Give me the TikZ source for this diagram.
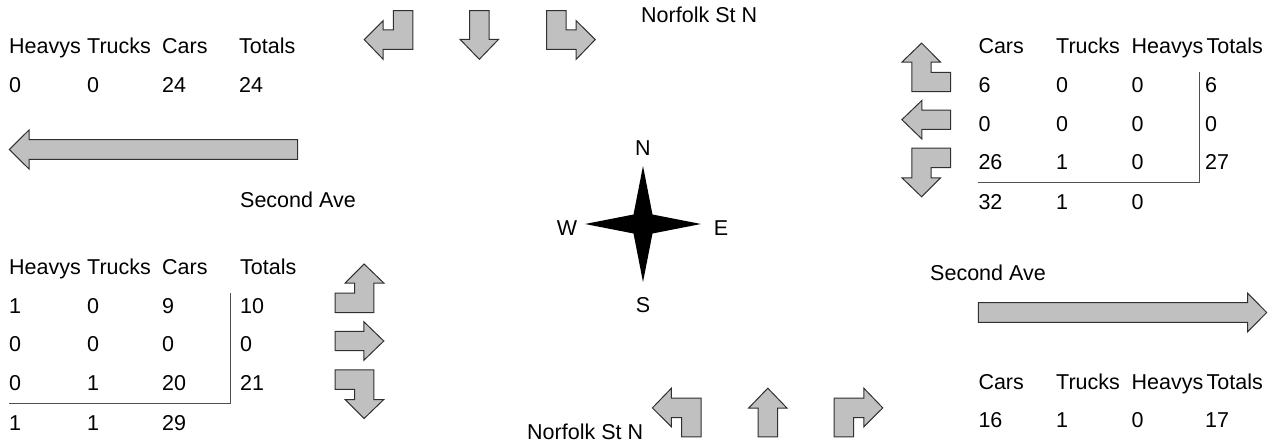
\documentclass[tikz,border=0pt]{standalone}
\usepackage{fontspec}
\setmainfont{Liberation Sans}
\definecolor{arrowgray}{HTML}{C0C0C0}
\definecolor{arrowline}{HTML}{303030}
\definecolor{ruleline}{HTML}{505050}
\begin{document}
\begin{tikzpicture}[x=1pt,y=-1pt,font=\fontsize{21.5}{25}\selectfont]
\tikzset{
  arrowshape/.style={fill=arrowgray,draw=arrowline,line width=1pt,line join=miter},
  cell/.style={anchor=base west,inner sep=0pt},
  lbl/.style={inner sep=0pt},
  rulestyle/.style={draw=ruleline,line width=1pt},
  turnL/.pic={\draw[arrowshape] (4.9,-24.3) -- (24.3,-24.3) -- (24.3,14.3) -- (-5.3,14.3) -- (-5.3,24.3) -- (-24.3,4.6) -- (-5.3,-14.3) -- (-5.3,-5) -- (4.9,-5) -- cycle;},
  turnR/.pic={\draw[arrowshape] (-4.9,-24.3) -- (-24.3,-24.3) -- (-24.3,14.3) -- (5.3,14.3) -- (5.3,24.3) -- (24.3,4.6) -- (5.3,-14.3) -- (5.3,-5) -- (-4.9,-5) -- cycle;},
  straight/.pic={\draw[arrowshape] (-9.7,-24.3) -- (9.7,-24.3) -- (9.7,4.3) -- (19.3,4.3) -- (0,24.3) -- (-19.3,4.3) -- (-9.7,4.3) -- cycle;}
}
\useasboundingbox (0,0) rectangle (1281,444);

% top group (southbound)
\pic at (388.5,35) {turnL};
\pic at (479.3,35) {straight};
\pic at (570.9,35) {turnR};
% right group (westbound)
\pic[rotate=-90] at (926.2,67.4) {turnL};
\pic[rotate=-90] at (926.2,119.7) {straight};
\pic[rotate=-90] at (926.2,172.5) {turnR};
% left group (eastbound)
\pic[rotate=90] at (359.5,288.3) {turnR};
\pic[rotate=90] at (359.5,341) {straight};
\pic[rotate=90] at (359.5,394.2) {turnL};
% bottom group (northbound)
\pic[rotate=180] at (676.7,412.5) {turnR};
\pic[rotate=180] at (767.8,412.5) {straight};
\pic[rotate=180] at (858.5,412.5) {turnL};

% big arrows
\draw[arrowshape] (297.7,139.7) -- (29,139.7) -- (29,130) -- (9.3,149.5) -- (29,169) -- (29,159.3) -- (297.7,159.3) -- cycle;
\draw[arrowshape] (978.3,302.7) -- (1247.7,302.7) -- (1247.7,293.3) -- (1266.7,312.5) -- (1247.7,331.7) -- (1247.7,322.3) -- (978.3,322.3) -- cycle;

% compass
\fill[black] (643,166) -- (652.5,214.5) -- (701,224) -- (652.5,233.5) -- (643,282) -- (633.5,233.5) -- (585,224) -- (633.5,214.5) -- cycle;
\node[lbl] (cN) at (643,148) {N};
\node[lbl] (cW) at (567,228) {W};
\node[lbl] (cE) at (721,228) {E};
\node[lbl] (cS) at (643,305) {S};

% street labels
\node[cell] (norfolkTop) at (641,22.5) {Norfolk St N};
\node[cell] (norfolkBot) at (527,439) {Norfolk St N};
\node[cell] (secondW) at (240,207) {Second Ave};
\node[cell] (secondE) at (930,280) {Second Ave};

% top-left table
\node[cell] (tlh1) at (9,53) {Heavys};
\node[cell] (tlh2) at (87,53) {Trucks};
\node[cell] (tlh3) at (162,53) {Cars};
\node[cell] (tlh4) at (239,53) {Totals};
\node[cell] (tla1) at (9,92.5) {0};
\node[cell] (tla2) at (87,92.5) {0};
\node[cell] (tla3) at (162,92.5) {24};
\node[cell] (tla4) at (239,92.5) {24};

% bottom-left table
\node[cell] (blh1) at (9,274.3) {Heavys};
\node[cell] (blh2) at (87,274.3) {Trucks};
\node[cell] (blh3) at (162,274.3) {Cars};
\node[cell] (blh4) at (240,274.3) {Totals};
\node[cell] (bla1) at (9,313.3) {1};
\node[cell] (bla2) at (87,313.3) {0};
\node[cell] (bla3) at (162,313.3) {9};
\node[cell] (bla4) at (240,313.3) {10};
\node[cell] (blb1) at (9,351.8) {0};
\node[cell] (blb2) at (87,351.8) {0};
\node[cell] (blb3) at (162,351.8) {0};
\node[cell] (blb4) at (240,351.8) {0};
\node[cell] (blc1) at (9,390.3) {0};
\node[cell] (blc2) at (87,390.3) {1};
\node[cell] (blc3) at (162,390.3) {20};
\node[cell] (blc4) at (240,390.3) {21};
\node[cell] (bld1) at (9,430) {1};
\node[cell] (bld2) at (87,430) {1};
\node[cell] (bld3) at (162,430) {29};
\draw[rulestyle] (230,293) -- (230,403) -- (9,403);

% top-right table
\node[cell] (trh1) at (978.3,54) {Cars};
\node[cell] (trh2) at (1056,54) {Trucks};
\node[cell] (trh3) at (1131.5,54) {Heavys};
\node[cell] (trh4) at (1206.5,54) {Totals};
\node[cell] (tra1) at (978.3,92.5) {6};
\node[cell] (tra2) at (1056,92.5) {0};
\node[cell] (tra3) at (1131.5,92.5) {0};
\node[cell] (tra4) at (1205,92.5) {6};
\node[cell] (trb1) at (978.3,131) {0};
\node[cell] (trb2) at (1056,131) {0};
\node[cell] (trb3) at (1131.5,131) {0};
\node[cell] (trb4) at (1205,131) {0};
\node[cell] (trc1) at (978.3,169.5) {26};
\node[cell] (trc2) at (1056,169.5) {1};
\node[cell] (trc3) at (1131.5,169.5) {0};
\node[cell] (trc4) at (1205,169.5) {27};
\node[cell] (trd1) at (978.3,209) {32};
\node[cell] (trd2) at (1056,209) {1};
\node[cell] (trd3) at (1131.5,209) {0};
\draw[rulestyle] (1199,72) -- (1199,182) -- (978,182);

% bottom-right table
\node[cell] (brh1) at (978.3,389) {Cars};
\node[cell] (brh2) at (1056,389) {Trucks};
\node[cell] (brh3) at (1131.5,389) {Heavys};
\node[cell] (brh4) at (1206.5,389) {Totals};
\node[cell] (bra1) at (978.3,427) {16};
\node[cell] (bra2) at (1056,427) {1};
\node[cell] (bra3) at (1131.5,427) {0};
\node[cell] (bra4) at (1205,427) {17};
\end{tikzpicture}
\end{document}
